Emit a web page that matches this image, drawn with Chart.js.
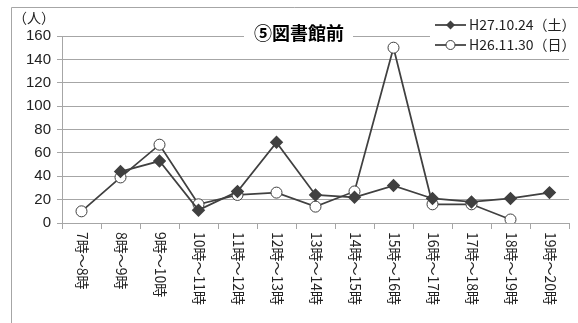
<!DOCTYPE html>
<html>
<head>
<meta charset="utf-8">
<script src="https://cdn.jsdelivr.net/npm/chart.js@4"></script>
<style>
body { margin: 0; background: #fff; }
canvas { display: block; }
</style>
</head>
<body>
<canvas id="grafico" width="578" height="323"></canvas>
<script>
const categorias = ['7時～8時', '8時～9時', '9時～10時', '10時～11時', '11時～12時', '12時～13時', '13時～14時',
    '14時～15時', '15時～16時', '16時～17時', '17時～18時', '18時～19時', '19時～20時'];
const serieH27 = [null, 44, 53, 11, 27, 69, 24, 22, 32, 21, 18, 21, 26];
const serieH26 = [10, 39, 67, 16, 24, 26, 14, 27, 150, 16, 16, 3, null];
const nombreH27 = 'H27.10.24（土）';
const nombreH26 = 'H26.11.30（日）';
const titulo = '⑤図書館前';
const unidad = '（人）';

const gris = '#404040';
const fuenteJP = '"Noto Sans CJK JP", "Liberation Sans", sans-serif';

// marco, titulo, leyenda y etiquetas verticales
const extras = {
    id: 'extras',
    beforeDraw(chart) {
        const ctx = chart.ctx;
        ctx.save();
        ctx.fillStyle = '#fff';
        ctx.fillRect(0, 0, chart.width, chart.height);
        ctx.strokeStyle = '#a6a6a6';
        ctx.lineWidth = 1;
        ctx.beginPath();
        ctx.moveTo(11.5, 323);
        ctx.lineTo(11.5, 7.5);
        ctx.lineTo(578, 7.5);
        ctx.stroke();
        ctx.restore();
    },
    afterDraw(chart) {
        const ctx = chart.ctx;
        const xs = chart.scales.x;
        ctx.save();

        // etiquetas del eje X, giradas 90 grados
        ctx.fillStyle = '#222';
        ctx.font = '14px ' + fuenteJP;
        ctx.textAlign = 'left';
        ctx.textBaseline = 'middle';
        categorias.forEach((c, i) => {
            const x = xs.getPixelForValue(i);
            ctx.save();
            ctx.translate(x + 1, 232);
            ctx.rotate(Math.PI / 2);
            ctx.fillText(c, 0, 0);
            ctx.restore();
        });

        // unidad
        ctx.font = '14px ' + fuenteJP;
        ctx.fillText(unidad, 13, 18);

        // titulo
        ctx.fillStyle = '#fff';
        ctx.fillRect(244, 22, 109, 22);
        ctx.fillStyle = '#000';
        ctx.font = 'bold 18px ' + fuenteJP;
        ctx.textAlign = 'center';
        ctx.fillText(titulo, 299, 33);

        // leyenda
        ctx.fillStyle = '#fff';
        ctx.fillRect(430, 14, 148, 42);
        const items = [
            { nombre: nombreH27, y: 25, marca: 'rombo' },
            { nombre: nombreH26, y: 45, marca: 'circulo' },
        ];
        items.forEach(it => {
            ctx.strokeStyle = gris;
            ctx.lineWidth = 1.75;
            ctx.beginPath();
            ctx.moveTo(435, it.y);
            ctx.lineTo(466, it.y);
            ctx.stroke();
            ctx.beginPath();
            if (it.marca === 'rombo') {
                ctx.fillStyle = gris;
                ctx.moveTo(450.5, it.y - 4.5);
                ctx.lineTo(455, it.y);
                ctx.lineTo(450.5, it.y + 4.5);
                ctx.lineTo(446, it.y);
                ctx.closePath();
                ctx.fill();
            } else {
                ctx.fillStyle = '#fff';
                ctx.lineWidth = 1;
                ctx.arc(450.5, it.y, 4.5, 0, Math.PI * 2);
                ctx.fill();
                ctx.stroke();
            }
            ctx.fillStyle = '#222';
            ctx.textAlign = 'left';
            ctx.font = '14px ' + fuenteJP;
            ctx.fillText(it.nombre, 469, it.y);
        });
        ctx.restore();
    }
};

new Chart(document.getElementById('grafico'), {
    type: 'line',
    data: {
        labels: categorias,
        datasets: [
            {
                label: nombreH27,
                data: serieH27,
                borderColor: gris,
                backgroundColor: gris,
                borderWidth: 1.75,
                pointStyle: 'rectRot',
                pointRadius: 5.5,
                pointBackgroundColor: gris,
                pointBorderColor: gris,
                tension: 0,
            },
            {
                label: nombreH26,
                data: serieH26,
                borderColor: gris,
                backgroundColor: '#fff',
                borderWidth: 1.75,
                pointStyle: 'circle',
                pointRadius: 5.5,
                pointBorderWidth: 1,
                pointBackgroundColor: '#fff',
                pointBorderColor: gris,
                tension: 0,
            },
        ],
    },
    options: {
        responsive: false,
        animation: false,
        layout: { padding: { left: 0, right: 9, top: 36, bottom: 0 } },
        plugins: {
            legend: { display: false },
            title: { display: false },
            tooltip: { enabled: false },
        },
        scales: {
            x: {
                offset: true,
                grid: {
                    offset: true,
                    drawOnChartArea: false,
                    drawTicks: true,
                    tickLength: 6,
                    color: '#a6a6a6',
                },
                border: { color: '#a6a6a6' },
                ticks: { display: false },
                afterFit(scale) { scale.height = 100; },
            },
            y: {
                min: 0,
                max: 160,
                ticks: {
                    stepSize: 20,
                    color: '#222',
                    padding: 6,
                    font: { size: 15, family: '"Liberation Sans", sans-serif' },
                },
                grid: {
                    color: '#a6a6a6',
                    tickLength: 5,
                },
                border: { color: '#a6a6a6' },
                afterFit(scale) { scale.width = 62; },
            },
        },
    },
    plugins: [extras],
});
</script>
</body>
</html>
